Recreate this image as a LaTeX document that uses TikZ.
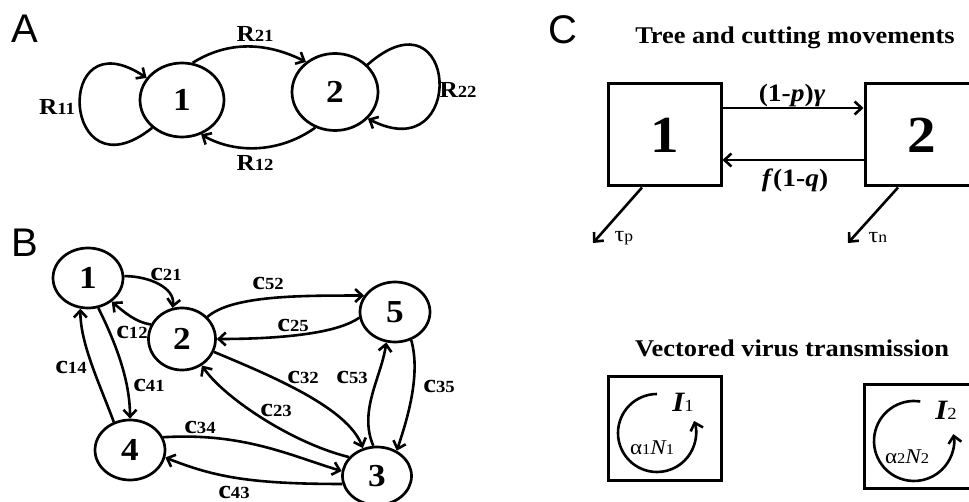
\documentclass[tikz,border=0pt]{standalone}
\usepackage{fontspec}
\setmainfont{Liberation Serif}[FakeStretch=1.1]
\newfontfamily\panelfont{Liberation Sans}
\usetikzlibrary{shapes.geometric,arrows.meta}
\newcommand{\fs}[1]{\fontsize{#1}{#1}\selectfont}
\newcommand{\myR}[1]{{\fs{23}R}{\fs{17}#1}}
\newcommand{\myC}[1]{{\fs{26}c}{\fs{17}#1}}
\begin{document}
\begin{tikzpicture}[x=1pt,y=-1pt,
  ell/.style={draw, ellipse, line width=2.7pt, inner sep=0pt, font=\fs{32}\bfseries},
  lab/.style={inner sep=0pt, font=\bfseries},
  panel/.style={inner sep=0pt, font=\panelfont\fs{40}},
  box/.style={draw, rectangle, line width=3pt, minimum width=113pt, minimum height=102pt, inner sep=0pt, font=\fs{52}\bfseries},
  ln/.style={line width=2.6pt},
  arr/.style={ln, -{Straight Barb[length=7pt,width=13pt]}},
  title/.style={inner sep=0pt, font=\fs{24}\bfseries}]
\useasboundingbox (0,0) rectangle (969,502);
\clip (0,0) rectangle (969,502);
% ---------- Panel A ----------
\node[panel] (pA) at (25,29) {A};
\node[ell, minimum width=84pt, minimum height=74pt] (a1) at (182,100) {1};
\node[ell, minimum width=86pt, minimum height=77pt] (a2) at (335,92) {2};
\draw[arr] (a1.74) .. controls +(35,-22) and +(-40,-20) .. (a2.134);
\draw[arr] (a2.241) .. controls +(-35,25) and +(35,20) .. (a1.299);
\draw[arr] (a1.223) .. controls (62,200) and (52,15) .. (a1.148);
\draw[arr] (a2.40) .. controls (458,-15) and (468,170) .. (a2.-39);
\node[lab] (r21) at (255,34) {\myR{21}};
\node[lab] (r12) at (255,163) {\myR{12}};
\node[lab] (r11) at (57,107) {\myR{11}};
\node[lab] (r22) at (458,90) {\myR{22}};
% ---------- Panel B ----------
\node[panel] (pB) at (25,243) {B};
\node[ell, minimum width=70pt, minimum height=60pt] (b1) at (88,278) {1};
\node[ell, minimum width=67pt, minimum height=62pt] (b2) at (182,339) {2};
\node[ell, minimum width=70pt, minimum height=60pt] (b5) at (395,312) {5};
\node[ell, minimum width=70pt, minimum height=60pt] (b4) at (130,450) {4};
\node[ell, minimum width=69pt, minimum height=58pt] (b3) at (377,476) {3};
\draw[arr] (b1.3) .. controls +(25,0) and +(3,-20) .. (b2.107);
\draw[arr] (b2.155) .. controls +(-15,-2) and +(12,10) .. (b1.-45);
\draw[arr] (b2.41) .. controls +(25,-22) and +(-60,0) .. (b5.152);
\draw[arr] (b5.189) .. controls +(-25,18) and +(50,0) .. (b2.0);
\draw[arr] (b2.-22) .. controls +(60,25) and +(-15,-40) .. (b3.117);
\draw[arr] (b3.146) .. controls +(-60,-15) and +(20,30) .. (b2.-53);
\draw[arr] (b3.97) .. controls +(-15,-35) and +(-5,35) .. (b5.254);
\draw[arr] (b5.-60) .. controls +(10,35) and +(10,-30) .. (b3.52);
\draw[arr] (b4.21) .. controls +(80,-5) and +(-50,-15) .. (b3.172);
\draw[arr] (b3.193) .. controls +(-90,0) and +(50,20) .. (b4.-12);
\draw[arr] (b4.120) .. controls +(-15,-40) and +(0,35) .. (b1.-104);
\draw[arr] (b1.-71) .. controls +(20,40) and +(0,-35) .. (b4.90);
\node[lab] (l21) at (166,274) {\myC{21}};
\node[lab] (l12) at (132,332) {\myC{12}};
\node[lab] (l52) at (268,283) {\myC{52}};
\node[lab] (l25) at (293,325) {\myC{25}};
\node[lab] (l32) at (303,377) {\myC{32}};
\node[lab] (l23) at (276,410) {\myC{23}};
\node[lab] (l53) at (352,377) {\myC{53}};
\node[lab] (l35) at (439,386) {\myC{35}};
\node[lab] (l34) at (200,427) {\myC{34}};
\node[lab] (l43) at (234,492) {\myC{43}};
\node[lab] (l14) at (71,367) {\myC{14}};
\node[lab] (l41) at (149,385) {\myC{41}};
% ---------- Panel C ----------
\node[panel] (pC) at (563,30) {C};
\node[title] (t1) at (795,38) {Tree and cutting movements};
\node[box] (c1) at (664.5,135) {1};
\node[box] (c2) at (921.5,135) {2};
\draw[arr] ([yshift=27pt]c1.east) -- ([yshift=27pt]c2.west);
\draw[arr] ([yshift=-25pt]c2.west) -- ([yshift=-25pt]c1.east);
\node[lab, font=\fs{25}\bfseries] (lp) at (792,95) {(1-\textit{p})\textit{γ}};
\node[lab, font=\fs{25}\bfseries] (lq) at (795,180) {\textit{f}(1-\textit{q})};
\coordinate (tp) at (593,243);
\coordinate (tn) at (848,243);
\draw[arr] ([xshift=-22.5pt]c1.south) -- (tp);
\draw[arr] ([xshift=-23.5pt]c2.south) -- (tn);
\node[inner sep=0pt] (ltp) at (624,238) {{\fs{22}τ}{\fs{16}p}};
\node[inner sep=0pt] (ltn) at (878,238) {{\fs{22}τ}{\fs{16}n}};
\node[title] (t2) at (792,348) {Vectored virus transmission};
\node[box, minimum height=103pt] (d1) at (664.5,428.5) {};
\node[box, minimum height=103pt] (d2) at (920.5,436.5) {};
\coordinate (o1) at (657,433);
\coordinate (o2) at (914,441);
\draw[arr] (o1) ++(-90:39) arc[start angle=-90, end angle=-378, radius=39];
\draw[arr] (o2) ++(-81:40) arc[start angle=-81, end angle=-370, radius=40];
\node[inner sep=0pt] (li1) at (683,402) {{\fs{28}\bfseries\itshape I}{\fs{17}1}};
\node[inner sep=0pt] (li2) at (946,410) {{\fs{28}\bfseries\itshape I}{\fs{17}2}};
\node[inner sep=0pt] (la1) at (652,448) {{\fs{21}α}{\fs{15}1}{\fs{21}\itshape N}{\fs{15}1}};
\node[inner sep=0pt] (la2) at (907,457) {{\fs{21}α}{\fs{15}2}{\fs{21}\itshape N}{\fs{15}2}};
\end{tikzpicture}
\end{document}
